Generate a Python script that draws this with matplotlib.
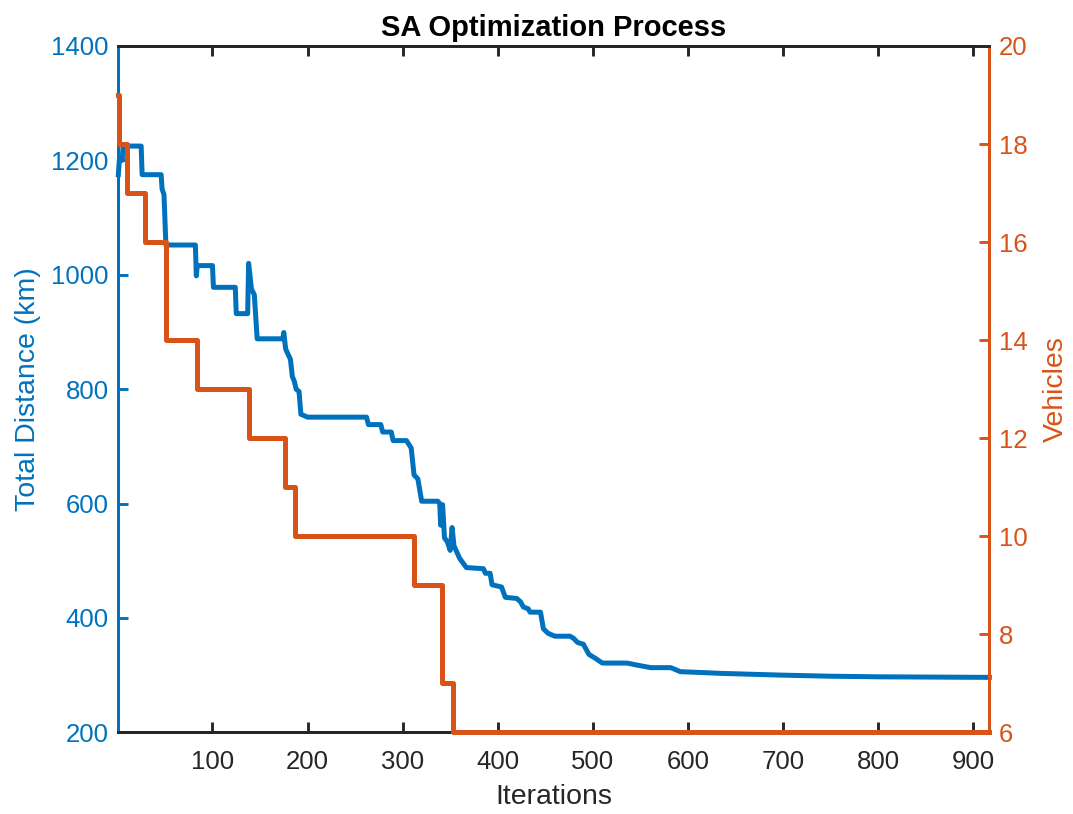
import numpy as np
import matplotlib.pyplot as plt

plt.rcParams['font.family'] = ['Liberation Sans', 'DejaVu Sans']

# total distance of current solution (iteration, km)
dist_iter = [1, 2, 5, 6, 25, 26, 46, 47, 49, 51, 82, 83, 84, 100, 101, 124, 125,
             137, 138, 141, 144, 147, 174, 175, 177, 182, 184, 186, 188, 191, 193,
             200, 262, 264, 277, 279, 288, 290, 304, 309, 312, 316, 320, 337, 339,
             340, 342, 344, 347, 350, 352, 354, 360, 367, 385, 387, 392, 394, 404,
             408, 420, 424, 427, 432, 434, 445, 448, 453, 460, 476, 480, 484, 490,
             496, 503, 510, 536, 548, 561, 582, 592, 635, 697, 750, 800, 917]
dist_km = [1175, 1200, 1200, 1225, 1225, 1175, 1175, 1150, 1140, 1052, 1052, 998,
           1016, 1016, 978, 978, 932, 932, 1020, 975, 965, 888, 888, 899, 870, 852,
           822, 814, 800, 796, 756, 751, 751, 738, 738, 725, 725, 710, 710, 697,
           650, 643, 604, 604, 600, 562, 598, 540, 533, 518, 558, 526, 504, 488,
           486, 478, 478, 458, 454, 436, 434, 428, 419, 416, 410, 410, 381, 373,
           368, 368, 364, 357, 354, 336, 329, 321, 321, 317, 313, 313, 306, 303,
           300, 298, 297, 296]

# number of vehicles (step changes)
veh_iter = [1, 2, 10, 29, 51, 84, 138, 176, 187, 312, 341, 353, 917]
veh_count = [19, 18, 17, 16, 14, 13, 12, 11, 10, 9, 7, 6, 6]

blue = '#0072BD'
orange = '#D95319'
dark = '#262626'

fig = plt.figure(figsize=(10.73, 8.14), dpi=100)
ax = fig.add_axes([0.1103, 0.1004, 0.8117, 0.8431])
ax2 = ax.twinx()

ax.plot(dist_iter, dist_km, color=blue, lw=3.6, clip_on=False)
ax2.plot(veh_iter, veh_count, drawstyle='steps-post', color=orange, lw=3.6,
         clip_on=False, zorder=3)

ax.set_xlim(1, 917)
ax.set_ylim(200, 1400)
ax2.set_ylim(6, 20)
ax.set_xticks(range(100, 901, 100))
ax.set_yticks(range(200, 1401, 200))
ax2.set_yticks(range(6, 21, 2))

for a in (ax, ax2):
    a.spines['top'].set_color(dark)
    a.spines['bottom'].set_color(dark)
    a.spines['left'].set_color(blue)
    a.spines['right'].set_color(orange)
    for s in a.spines.values():
        s.set_linewidth(2.1)

ax.tick_params(axis='x', direction='in', top=True, length=7, width=2.1,
               color=dark, labelcolor=dark, labelsize=18.5, pad=13)
ax.tick_params(axis='y', direction='in', length=7, width=2.1,
               color=blue, labelcolor=blue, labelsize=18.5, pad=7)
ax2.tick_params(axis='y', direction='in', length=7, width=2.1,
                color=orange, labelcolor=orange, labelsize=18.5, pad=7)

ax.set_xlabel('Iterations', fontsize=20.5, color=dark, labelpad=7)
ax.set_ylabel('Total Distance (km)', fontsize=20.5, color=blue, labelpad=7)
ax2.set_ylabel('Vehicles', fontsize=20.5, color=orange, labelpad=11)
ax.set_title('SA Optimization Process', fontsize=21, fontweight='bold', pad=7)

fig.savefig('out.png', dpi=100)
